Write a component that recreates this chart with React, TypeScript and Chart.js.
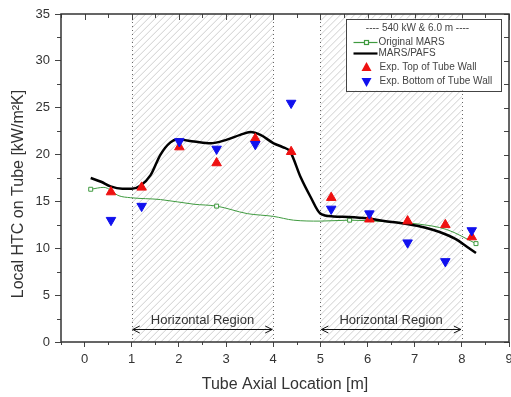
import React, { useEffect, useRef } from "react";
import { Chart, registerables } from "chart.js";

Chart.register(...registerables);

const FONT = 'Arial, "Liberation Sans", Helvetica, sans-serif';

// Experimental data
const expLocations = [0.56, 1.21, 2.01, 2.8, 3.62, 4.38, 5.23, 6.04, 6.85, 7.65, 8.21];
const expTop = [16.0, 16.5, 20.8, 19.1, 21.7, 20.3, 15.4, 13.1, 12.9, 12.5, 11.2];
const expBottom = [13.0, 14.5, 21.4, 20.6, 21.1, 25.5, 14.2, 13.7, 10.6, 8.6, 11.9];

// Original MARS
const marsX = [0.13, 0.41, 0.73, 0.97, 1.61, 2.32, 2.8, 3.45, 4.01, 4.43, 5.0, 5.62, 6.34, 7.05, 7.68, 8.3];
const marsY = [16.3, 16.5, 15.6, 15.4, 15.2, 14.7, 14.5, 13.7, 13.4, 13.0, 12.9, 13.0, 12.85, 12.6, 12.0, 10.5];
const marsMarkers = [0, 6, 11, 15];

// MARS/PAFS
const pafsX = [0.13, 0.35, 0.55, 0.8, 1.0, 1.19, 1.4, 1.61, 1.82, 1.96, 2.32, 2.67, 3.02, 3.3, 3.52, 3.73, 4.01, 4.2, 4.36, 4.58, 4.79, 5.0, 5.28, 5.6, 5.99, 6.35, 6.69, 7.05, 7.4, 7.65, 7.9, 8.1, 8.3];
const pafsY = [17.5, 17.1, 16.6, 16.35, 16.35, 16.7, 17.8, 20.0, 21.3, 21.6, 21.4, 21.2, 21.6, 22.1, 22.4, 22.1, 21.2, 20.8, 20.3, 17.6, 15.5, 13.7, 13.4, 13.35, 13.2, 12.9, 12.7, 12.4, 11.95, 11.5, 10.9, 10.2, 9.5];

const xTicks = [0, 1, 2, 3, 4, 5, 6, 7, 8, 9];
const yTicks = [0, 5, 10, 15, 20, 25, 30, 35];
const xMinor = [-0.5, 0.5, 1.5, 2.5, 3.5, 4.5, 5.5, 6.5, 7.5, 8.5];
const yMinor = [2.5, 7.5, 12.5, 17.5, 22.5, 27.5, 32.5];

const regions = [
  [1, 4],
  [5, 8],
];
const regionLabel = "Horizontal Region";
const regionArrowY = 1.35;
const regionTextY = 2.35;

const legendTitle = "---- 540 kW & 6.0 m ----";
const yTitle = "Local HTC on Tube [kW/m\u00B2K]";
const xTitle = "Tube Axial Location [m]";

const GREEN = "#3f9a3f";
const RED = "#ee1111";
const BLUE = "#1111ee";

const hatchPlugin = {
  id: "hatch",
  beforeDatasetsDraw(chart: any) {
    const { ctx, chartArea: ca, scales } = chart;
    const x = scales.x;
    ctx.save();
    for (const [a, b] of regions) {
      const l = x.getPixelForValue(a);
      const r = x.getPixelForValue(b);
      ctx.save();
      ctx.beginPath();
      ctx.rect(l, ca.top, r - l, ca.bottom - ca.top);
      ctx.clip();
      ctx.strokeStyle = "#cfcfcf";
      ctx.lineWidth = 1;
      ctx.beginPath();
      const h = ca.bottom - ca.top;
      for (let s = l - h; s < r + 10; s += 7) {
        ctx.moveTo(s, ca.bottom);
        ctx.lineTo(s + h, ca.top);
      }
      ctx.stroke();
      ctx.restore();
      ctx.strokeStyle = "#666";
      ctx.lineWidth = 1;
      ctx.setLineDash([1, 3]);
      for (const px of [l, r]) {
        ctx.beginPath();
        ctx.moveTo(Math.round(px) + 0.5, ca.top);
        ctx.lineTo(Math.round(px) + 0.5, ca.bottom);
        ctx.stroke();
      }
      ctx.setLineDash([]);
    }
    ctx.restore();
  },
};

const annotatePlugin = {
  id: "annotate",
  afterDatasetsDraw(chart: any) {
    const { ctx, scales } = chart;
    const x = scales.x;
    const y = scales.y;
    ctx.save();
    for (const [a, b] of regions) {
      const l = x.getPixelForValue(a) + 1;
      const r = x.getPixelForValue(b) - 1;
      const ay = Math.round(y.getPixelForValue(regionArrowY)) + 0.5;
      ctx.strokeStyle = "#111";
      ctx.lineWidth = 1;
      ctx.beginPath();
      ctx.moveTo(l, ay);
      ctx.lineTo(r, ay);
      ctx.moveTo(l + 7, ay - 3.5);
      ctx.lineTo(l, ay);
      ctx.lineTo(l + 7, ay + 3.5);
      ctx.moveTo(r - 7, ay - 3.5);
      ctx.lineTo(r, ay);
      ctx.lineTo(r - 7, ay + 3.5);
      ctx.stroke();
      ctx.fillStyle = "#333";
      ctx.font = `13px ${FONT}`;
      ctx.textAlign = "center";
      ctx.textBaseline = "middle";
      ctx.fillText(regionLabel, (l + r) / 2, y.getPixelForValue(regionTextY));
    }
    ctx.restore();
  },
};

const framePlugin = {
  id: "frame",
  afterDraw(chart: any) {
    const { ctx, chartArea: ca, scales } = chart;
    const x = scales.x;
    const y = scales.y;
    ctx.save();
    ctx.strokeStyle = "#444";
    ctx.lineWidth = 1;
    ctx.beginPath();
    for (const v of xMinor) {
      const px = Math.round(x.getPixelForValue(v)) + 0.5;
      ctx.moveTo(px, ca.bottom);
      ctx.lineTo(px, ca.bottom + 3);
      ctx.moveTo(px, ca.top);
      ctx.lineTo(px, ca.top + 4);
    }
    for (const v of xTicks) {
      const px = Math.round(x.getPixelForValue(v)) + 0.5;
      ctx.moveTo(px, ca.top);
      ctx.lineTo(px, ca.top + 6);
    }
    for (const v of yMinor) {
      const py = Math.round(y.getPixelForValue(v)) + 0.5;
      ctx.moveTo(ca.left, py);
      ctx.lineTo(ca.left - 4, py);
      ctx.moveTo(ca.right, py);
      ctx.lineTo(ca.right - 5, py);
    }
    for (const v of yTicks) {
      const py = Math.round(y.getPixelForValue(v)) + 0.5;
      ctx.moveTo(ca.right, py);
      ctx.lineTo(ca.right - 5, py);
    }
    ctx.stroke();
    ctx.lineWidth = 1.5;
    ctx.strokeStyle = "#333";
    ctx.strokeRect(ca.left, ca.top, ca.right - ca.left, ca.bottom - ca.top);

    // y axis title
    ctx.fillStyle = "#333";
    ctx.font = `16px ${FONT}`;
    ctx.textAlign = "center";
    ctx.textBaseline = "middle";
    ctx.translate(19, (ca.top + ca.bottom) / 2 + 16);
    ctx.rotate(-Math.PI / 2);
    ctx.fillText(yTitle, 0, 0);
    ctx.restore();
  },
};

const legendPlugin = {
  id: "boxLegend",
  afterDraw(chart: any) {
    const { ctx, chartArea: ca } = chart;
    const right = ca.right - 8.5;
    const top = ca.top + 4.5;
    const w = 155;
    const h = 72;
    const left = right - w;
    ctx.save();
    ctx.fillStyle = "#fff";
    ctx.fillRect(left, top, w, h);
    ctx.strokeStyle = "#444";
    ctx.lineWidth = 1;
    ctx.strokeRect(Math.round(left) + 0.5, Math.round(top) + 0.5, w, h);

    ctx.font = `10px ${FONT}`;
    ctx.fillStyle = "#444";
    ctx.textBaseline = "middle";
    ctx.textAlign = "center";
    ctx.fillText(legendTitle, left + 72, top + 10);

    const symX = left + 21;
    const textX = left + 33;
    ctx.textAlign = "left";
    let yy = top + 24;
    ctx.strokeStyle = GREEN;
    ctx.lineWidth = 1.2;
    ctx.beginPath();
    ctx.moveTo(left + 8, yy);
    ctx.lineTo(left + 32, yy);
    ctx.stroke();
    ctx.fillStyle = "#fff";
    ctx.fillRect(symX - 2, yy - 2, 4, 4);
    ctx.strokeRect(symX - 2, yy - 2, 4, 4);
    ctx.fillStyle = "#444";
    ctx.fillText("Original MARS", textX, yy);
    yy = top + 35;
    ctx.strokeStyle = "#000";
    ctx.lineWidth = 2.2;
    ctx.beginPath();
    ctx.moveTo(left + 8, yy);
    ctx.lineTo(left + 32, yy);
    ctx.stroke();
    ctx.fillText("MARS/PAFS", textX, yy);
    yy = top + 49;
    ctx.fillStyle = RED;
    ctx.beginPath();
    ctx.moveTo(symX, yy - 5.5);
    ctx.lineTo(symX + 5, yy + 3.5);
    ctx.lineTo(symX - 5, yy + 3.5);
    ctx.closePath();
    ctx.fill();
    ctx.fillStyle = "#444";
    ctx.fillText("Exp. Top of Tube Wall", textX + 1, yy);
    yy = top + 63;
    ctx.fillStyle = BLUE;
    ctx.beginPath();
    ctx.moveTo(symX, yy + 5.5);
    ctx.lineTo(symX + 5, yy - 3.5);
    ctx.lineTo(symX - 5, yy - 3.5);
    ctx.closePath();
    ctx.fill();
    ctx.fillStyle = "#444";
    ctx.fillText("Exp. Bottom of Tube Wall", textX + 1, yy);
    ctx.restore();
  },
};

export default function App() {
  const ref = useRef<HTMLCanvasElement>(null);
  useEffect(() => {
    const canvas = ref.current;
    if (!canvas) return;
    const chart = new Chart(canvas, {
      type: "line",
      data: {
        datasets: [
          {
            label: "Exp. Bottom of Tube Wall",
            data: expLocations.map((v, i) => ({ x: v, y: expBottom[i] })),
            showLine: false,
            pointStyle: "triangle",
            rotation: 180,
            pointRadius: 5.5,
            pointBorderWidth: 1,
            backgroundColor: BLUE,
            borderColor: BLUE,
            order: 0,
          },
          {
            label: "Exp. Top of Tube Wall",
            data: expLocations.map((v, i) => ({ x: v, y: expTop[i] })),
            showLine: false,
            pointStyle: "triangle",
            pointRadius: 5.5,
            pointBorderWidth: 1,
            backgroundColor: RED,
            borderColor: RED,
            order: 1,
          },
          {
            label: "MARS/PAFS",
            data: pafsX.map((v, i) => ({ x: v, y: pafsY[i] })),
            borderColor: "#000",
            borderWidth: 2.5,
            pointRadius: 0,
            cubicInterpolationMode: "monotone",
            order: 2,
          },
          {
            label: "Original MARS",
            data: marsX.map((v, i) => ({ x: v, y: marsY[i] })),
            borderColor: GREEN,
            borderWidth: 1,
            pointStyle: "rect",
            pointRadius: marsX.map((_, i) => (marsMarkers.includes(i) ? 2.8 : 0)),
            pointBackgroundColor: "#fff",
            pointBorderColor: GREEN,
            pointBorderWidth: 1,
            cubicInterpolationMode: "monotone",
            order: 3,
          },
        ],
      },
      options: {
        animation: false,
        responsive: false,
        maintainAspectRatio: false,
        devicePixelRatio: 1,
        layout: { autoPadding: false, padding: { top: 14, right: 2, left: 0, bottom: 0 } },
        plugins: { legend: { display: false }, tooltip: { enabled: false } },
        events: [],
        scales: {
          x: {
            type: "linear",
            min: -0.5,
            max: 9,
            afterBuildTicks: (s: any) => {
              s.ticks = xTicks.map((v) => ({ value: v }));
            },
            afterFit: (s: any) => {
              s.height = 55;
              s.paddingLeft = 0;
              s.paddingRight = 0;
            },
            grid: { display: true, drawOnChartArea: false, drawTicks: true, tickLength: 5, tickColor: "#444", color: "#444" },
            border: { display: false },
            ticks: { color: "#333", font: { size: 13, family: FONT }, padding: 5, maxRotation: 0, autoSkip: false },
            title: {
              display: true,
              text: xTitle,
              color: "#333",
              font: { size: 16, family: FONT },
              padding: { top: 0, bottom: 3 },
            },
          },
          y: {
            type: "linear",
            min: 0,
            max: 35,
            afterBuildTicks: (s: any) => {
              s.ticks = yTicks.map((v) => ({ value: v }));
            },
            afterFit: (s: any) => {
              s.width = 61;
              s.paddingTop = 0;
              s.paddingBottom = 0;
            },
            grid: { display: true, drawOnChartArea: false, drawTicks: true, tickLength: 6, tickColor: "#444", color: "#444" },
            border: { display: false },
            ticks: { color: "#333", font: { size: 13, family: FONT }, padding: 5, autoSkip: false },
          },
        },
      },
      plugins: [hatchPlugin, annotatePlugin, framePlugin, legendPlugin],
    } as any);
    return () => chart.destroy();
  }, []);
  return (
    <div style={{ position: "absolute", left: 0, top: 0, width: 511, height: 397, background: "#fff" }}>
      <canvas ref={ref} width={511} height={397} style={{ display: "block", width: 511, height: 397 }} />
    </div>
  );
}
